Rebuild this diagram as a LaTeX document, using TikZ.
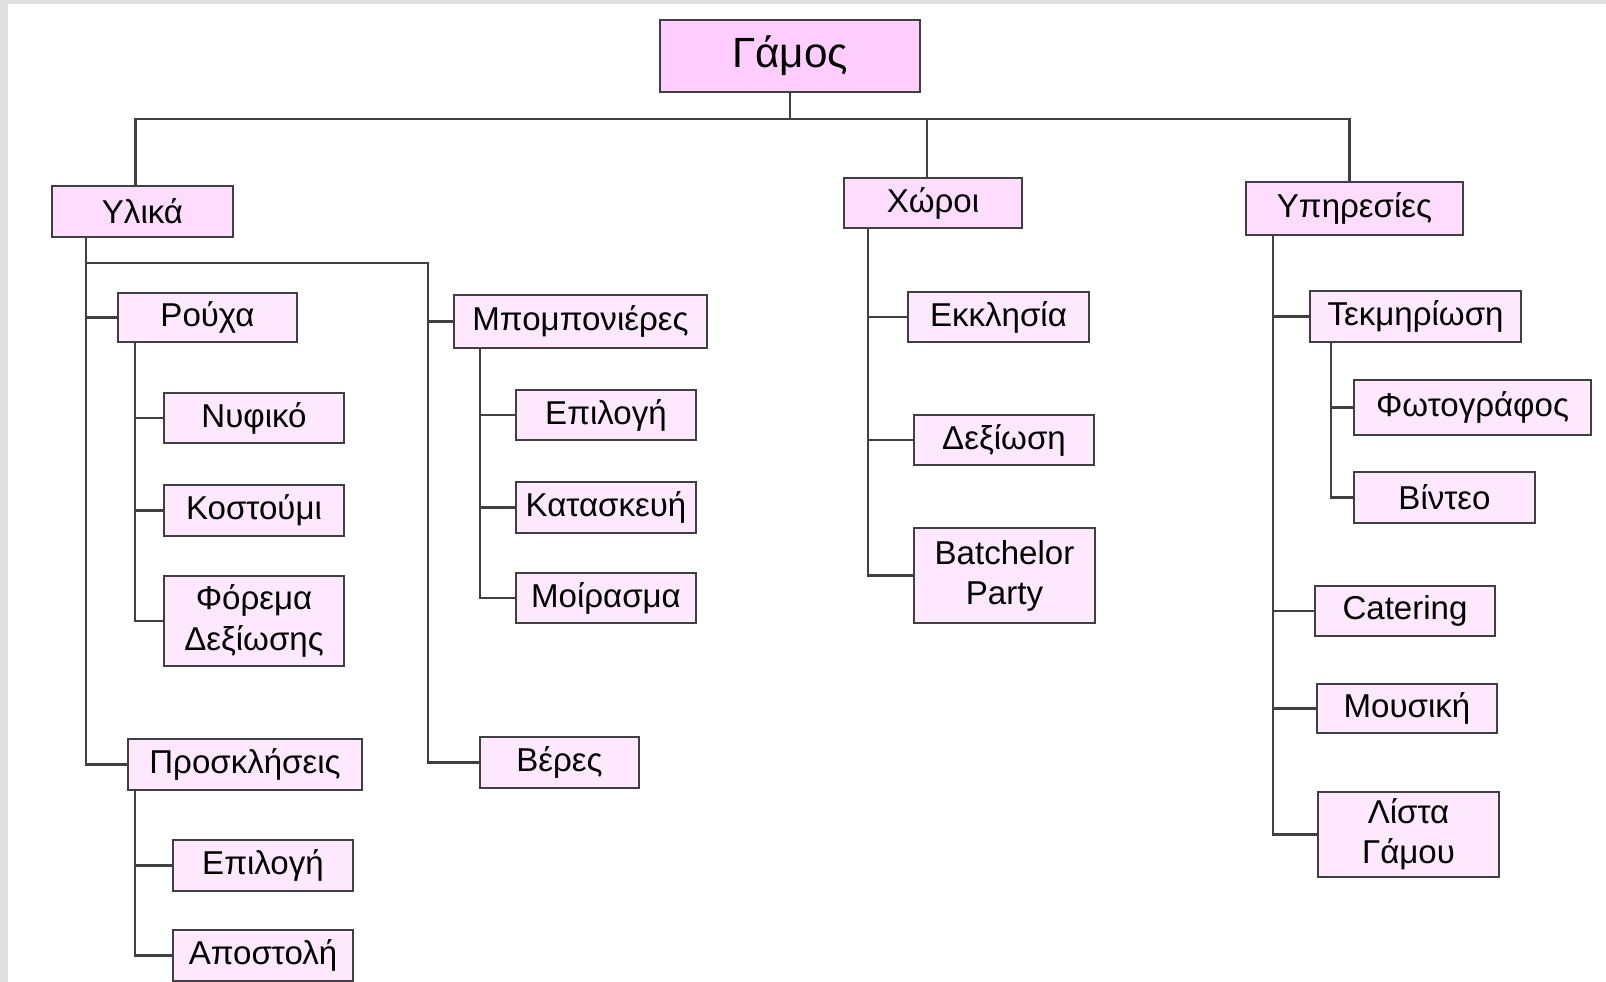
\documentclass[tikz,border=0pt]{standalone}
\usepackage{fontspec}
\setmainfont{Liberation Sans}
\usepackage{tikz}
\usepackage{color}

\definecolor{framegray}{RGB}{224,224,224}
\definecolor{pinkA}{RGB}{255,206,255}
\definecolor{pinkB}{RGB}{253,220,253}
\definecolor{pinkC}{RGB}{253,232,253}
\definecolor{edgegray}{RGB}{64,64,64}

\tikzset{
	item/.style={draw=edgegray, line width=0.6pt, fill=pinkC, inner sep=0pt, align=center,
		font=\fontsize{9.4pt}{11.4pt}\selectfont},
	head/.style={item, fill=pinkB},
	root/.style={item, fill=pinkA, font=\fontsize{12pt}{14pt}\selectfont},
	link/.style={draw=edgegray, line width=0.6pt}
}

\begin{document}
\begin{tikzpicture}[x=0.01cm, y=-0.01cm]
				\useasboundingbox (0,0) rectangle (1606,982);
				\fill[framegray] (0,0) rectangle (1606,4);
				\fill[framegray] (0,0) rectangle (8,982);
				
				\node[root, minimum width=2.60cm, minimum height=0.72cm] (gamos) at (790,56) {Γάμος};
				
				\node[head, minimum width=1.81cm, minimum height=0.51cm] (ylika) at (142.5,211.5) {Υλικά};
				\node[head, minimum width=1.78cm, minimum height=0.50cm] (xoroi) at (933,203) {Χώροι};
				\node[head, minimum width=2.17cm, minimum height=0.53cm] (ypir) at (1354.5,208.5) {Υπηρεσίες};
				
				% Υλικά
				\node[item, minimum width=1.79cm, minimum height=0.49cm] (rouxa) at (207.5,317.5) {Ρούχα};
				\node[item, minimum width=1.80cm, minimum height=0.50cm] (nyfiko) at (254,418) {Νυφικό};
				\node[item, minimum width=1.80cm, minimum height=0.51cm] (kostoumi) at (254,510.5) {Κοστούμι};
				\node[item, minimum width=1.80cm, minimum height=0.90cm] (forema) at (254,621) {Φόρεμα\\Δεξίωσης};
				\node[item, minimum width=2.34cm, minimum height=0.51cm] (prosk) at (245,764.5) {Προσκλήσεις};
				\node[item, minimum width=1.80cm, minimum height=0.51cm] (epilogiP) at (263,865.5) {Επιλογή};
				\node[item, minimum width=1.80cm, minimum height=0.51cm] (apostoli) at (263,955.5) {Αποστολή};
				\node[item, minimum width=2.53cm, minimum height=0.53cm] (mpomp) at (580.5,321.5) {Μπομπονιέρες};
				\node[item, minimum width=1.80cm, minimum height=0.50cm] (epilogiM) at (606,415) {Επιλογή};
				\node[item, minimum width=1.80cm, minimum height=0.51cm] (kataskevi) at (606,507.5) {Κατασκευή};
				\node[item, minimum width=1.80cm, minimum height=0.50cm] (moirasma) at (606,598) {Μοίρασμα};
				\node[item, minimum width=1.59cm, minimum height=0.51cm] (veres) at (559.5,762.5) {Βέρες};
				
				% Χώροι
				\node[item, minimum width=1.81cm, minimum height=0.50cm] (ekklisia) at (998.5,317) {Εκκλησία};
				\node[item, minimum width=1.80cm, minimum height=0.50cm] (dexiosi) at (1004,440) {Δεξίωση};
				\node[item, minimum width=1.81cm, minimum height=0.95cm] (batchelor) at (1004.5,575.5) {Batchelor\\Party};
				
				% Υπηρεσίες
				\node[item, minimum width=2.11cm, minimum height=0.51cm] (tekm) at (1415.5,316.5) {Τεκμηρίωση};
				\node[item, minimum width=2.37cm, minimum height=0.55cm] (fotogr) at (1472.5,407.5) {Φωτογράφος};
				\node[item, minimum width=1.81cm, minimum height=0.51cm] (vinteo) at (1444.5,497.5) {Βίντεο};
				\node[item, minimum width=1.80cm, minimum height=0.50cm] (catering) at (1405,611) {Catering};
				\node[item, minimum width=1.80cm, minimum height=0.49cm] (mousiki) at (1407,708.5) {Μουσική};
				\node[item, minimum width=1.81cm, minimum height=0.85cm] (lista) at (1408.5,834.5) {Λίστα\\Γάμου};
				
				% connectors
				\coordinate (bus) at (790,119);
				\coordinate (ybus) at (428,263);
				\draw[link] (gamos.south) -- (bus);
				\draw[link] (bus) -| ([xshift=-0.07cm]ylika.north);
				\draw[link] (bus) -| ([xshift=-0.06cm]xoroi.north);
				\draw[link] (bus) -| ([xshift=-0.05cm]ypir.north);
				
				\draw[link] ([xshift=0.35cm]ylika.south west) |- (prosk.west);
				\draw[link] ([xshift=0.35cm]ylika.south west) |- (rouxa.west);
				\draw[link] ([xshift=0.35cm]ylika.south west) |- (ybus) |- (veres.west);
				\draw[link] (ybus) |- (mpomp.west);
				
				\draw[link] ([xshift=0.18cm]rouxa.south west) |- (forema.west);
				\draw[link] ([xshift=0.18cm]rouxa.south west) |- (kostoumi.west);
				\draw[link] ([xshift=0.18cm]rouxa.south west) |- (nyfiko.west);
				
				\draw[link] ([xshift=0.08cm]prosk.south west) |- (apostoli.west);
				\draw[link] ([xshift=0.08cm]prosk.south west) |- (epilogiP.west);
				
				\draw[link] ([xshift=0.27cm]mpomp.south west) |- (moirasma.west);
				\draw[link] ([xshift=0.27cm]mpomp.south west) |- (kataskevi.west);
				\draw[link] ([xshift=0.27cm]mpomp.south west) |- (epilogiM.west);
				
				\draw[link] ([xshift=0.25cm]xoroi.south west) |- (batchelor.west);
				\draw[link] ([xshift=0.25cm]xoroi.south west) |- (dexiosi.west);
				\draw[link] ([xshift=0.25cm]xoroi.south west) |- (ekklisia.west);
				
				\draw[link] ([xshift=0.28cm]ypir.south west) |- (lista.west);
				\draw[link] ([xshift=0.28cm]ypir.south west) |- (mousiki.west);
				\draw[link] ([xshift=0.28cm]ypir.south west) |- (catering.west);
				\draw[link] ([xshift=0.28cm]ypir.south west) |- (tekm.west);
				
				\draw[link] ([xshift=0.22cm]tekm.south west) |- (vinteo.west);
				\draw[link] ([xshift=0.22cm]tekm.south west) |- (fotogr.west);
			\end{tikzpicture}
\end{document}
